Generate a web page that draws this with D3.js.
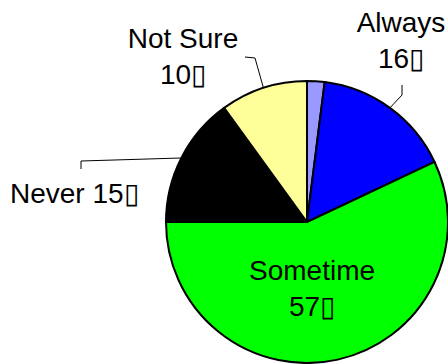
<!DOCTYPE html>
<html lang="en">
  <head>
    <meta charset="utf-8">
    <title>Pie</title>
    <script src="https://cdn.jsdelivr.net/npm/d3@7"></script>
    <style>
      body { margin: 0; background: #fff; }
      text { font-family: "Liberation Sans", Arial, sans-serif; font-size: 28px; fill: #000; }
    </style>
  </head>
  <body>
    <svg width="448" height="364" id="mainsvg"></svg>
    <script>
      // data
      const categories = ['', 'Always', 'Sometime', 'Never', 'Not Sure'];
      const values = [2, 16, 57, 15, 10];
      const colors = ['#9999ff', '#0000ff', '#00ff00', '#000000', '#ffff99'];
      const unit = '\u25AF';

      const svg = d3.select('#mainsvg');
      const cx = 307, cy = 222, r = 141;
      const g = svg.append('g').attr('transform', `translate(${cx}, ${cy})`);

      const pie = d3.pie().sort(null).value(d => d.value);
      const arcs = pie(categories.map((c, i) => ({ name: c, value: values[i], color: colors[i] })));
      const arc = d3.arc().innerRadius(0).outerRadius(r);
      const edge = d3.arc().innerRadius(r).outerRadius(r);

      g.selectAll('path').data(arcs).join('path')
        .attr('d', arc)
        .attr('fill', d => d.data.color)
        .attr('stroke', '#000')
        .attr('stroke-width', 2)
        .attr('stroke-linejoin', 'round');

      // label layout (relative to pie centre): text lines, anchor, leader line bends
      const layout = {
        'Always':   { x: 94, y: -190, anchor: 'middle', lines: 2, leader: [[95, -127], [95, -137]] },
        'Not Sure': { x: -124, y: -174, anchor: 'middle', lines: 2, leader: [[-52, -164], [-62, -165]] },
        'Never':    { x: -297, y: -19, anchor: 'start', lines: 1, leader: [[-226, -61], [-226, -53]] },
        'Sometime': { x: 5, y: 58, anchor: 'middle', lines: 2, leader: null }
      };

      arcs.forEach(d => {
        const L = layout[d.data.name];
        if (!L) return;
        if (L.leader) {
          const p0 = edge.centroid(d);
          g.append('path')
            .attr('d', d3.line()([p0, ...L.leader]))
            .attr('fill', 'none')
            .attr('stroke', '#000')
            .attr('stroke-width', 1);
        }
        const t = g.append('text').attr('text-anchor', L.anchor)
          .attr('x', L.x).attr('y', L.y);
        if (L.lines === 2) {
          t.append('tspan').attr('x', L.x).text(d.data.name);
          t.append('tspan').attr('x', L.x).attr('dy', 36).text(d.data.value + unit);
        } else {
          t.text(d.data.name + ' ' + d.data.value + unit);
        }
      });
    </script>
  </body>
</html>
